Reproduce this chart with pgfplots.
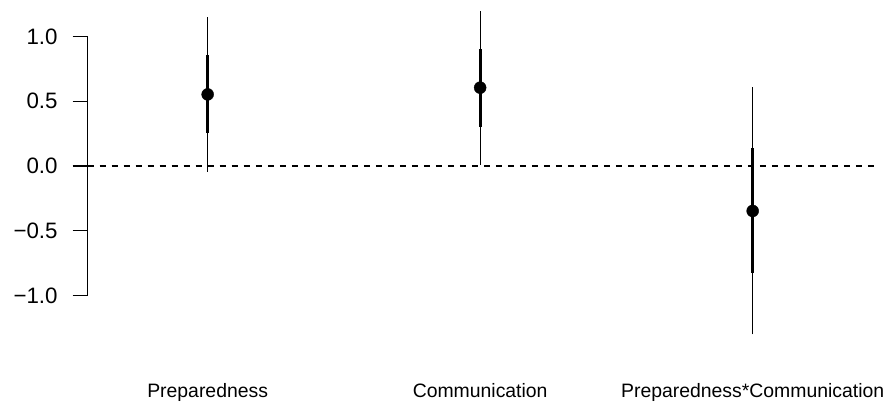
\documentclass[border=0pt]{standalone}
\usepackage{pgfplots}
\pgfplotsset{compat=1.18}
\usepackage{fontspec}
\setmainfont{Liberation Sans}
\begin{document}
\begin{tikzpicture}
\begin{axis}[
  x=272.5pt, y=129.5pt,
  xmin=0.56, xmax=3.445, ymin=-1, ymax=1,
  clip=false,
  axis x line=none,
  axis y line*=left,
  y axis line style={line width=1.3pt, -},
  ytick={-1,-0.5,0,0.5,1},
  yticklabels={−1.0,−0.5,0.0,0.5,1.0},
  tick align=outside,
  major tick length=15pt,
  ytick style={line width=1.3pt, black},
  yticklabel style={font=\fontsize{22.3}{26}\selectfont, inner sep=0pt, anchor=east, xshift=-15pt},
]
% zero reference line
\addplot[black, line width=1.3pt, dash pattern=on 6pt off 6pt] coordinates {(0.56,0) (3.445,0)};
% Preparedness
\addplot[black, line width=1.3pt] coordinates {(1,-0.046) (1,1.150)};
\addplot[black, line width=3.2pt] coordinates {(1,0.255) (1,0.857)};
\addplot[black, only marks, mark=*, mark size=6pt] coordinates {(1,0.553)};
% Communication
\addplot[black, line width=1.3pt] coordinates {(2,0.008) (2,1.197)};
\addplot[black, line width=3.2pt] coordinates {(2,0.303) (2,0.900)};
\addplot[black, only marks, mark=*, mark size=6pt] coordinates {(2,0.605)};
% Preparedness*Communication
\addplot[black, line width=1.3pt] coordinates {(3,-1.300) (3,0.608)};
\addplot[black, line width=3.2pt] coordinates {(3,-0.824) (3,0.137)};
\addplot[black, only marks, mark=*, mark size=6pt] coordinates {(3,-0.347)};
\node[anchor=base, font=\fontsize{19.4}{22}\selectfont] at (axis cs:1,-1.791) {Preparedness};
\node[anchor=base, font=\fontsize{19.4}{22}\selectfont] at (axis cs:2,-1.791) {Communication};
\node[anchor=base, font=\fontsize{19.4}{22}\selectfont] at (axis cs:3,-1.791) {Preparedness*Communication};
\coordinate (bbA) at (axis cs:0.238,-1.846);
\coordinate (bbB) at (axis cs:3.504,1.282);
\end{axis}
\pgfresetboundingbox
\path[use as bounding box] (bbA) rectangle (bbB);
\end{tikzpicture}
\end{document}
